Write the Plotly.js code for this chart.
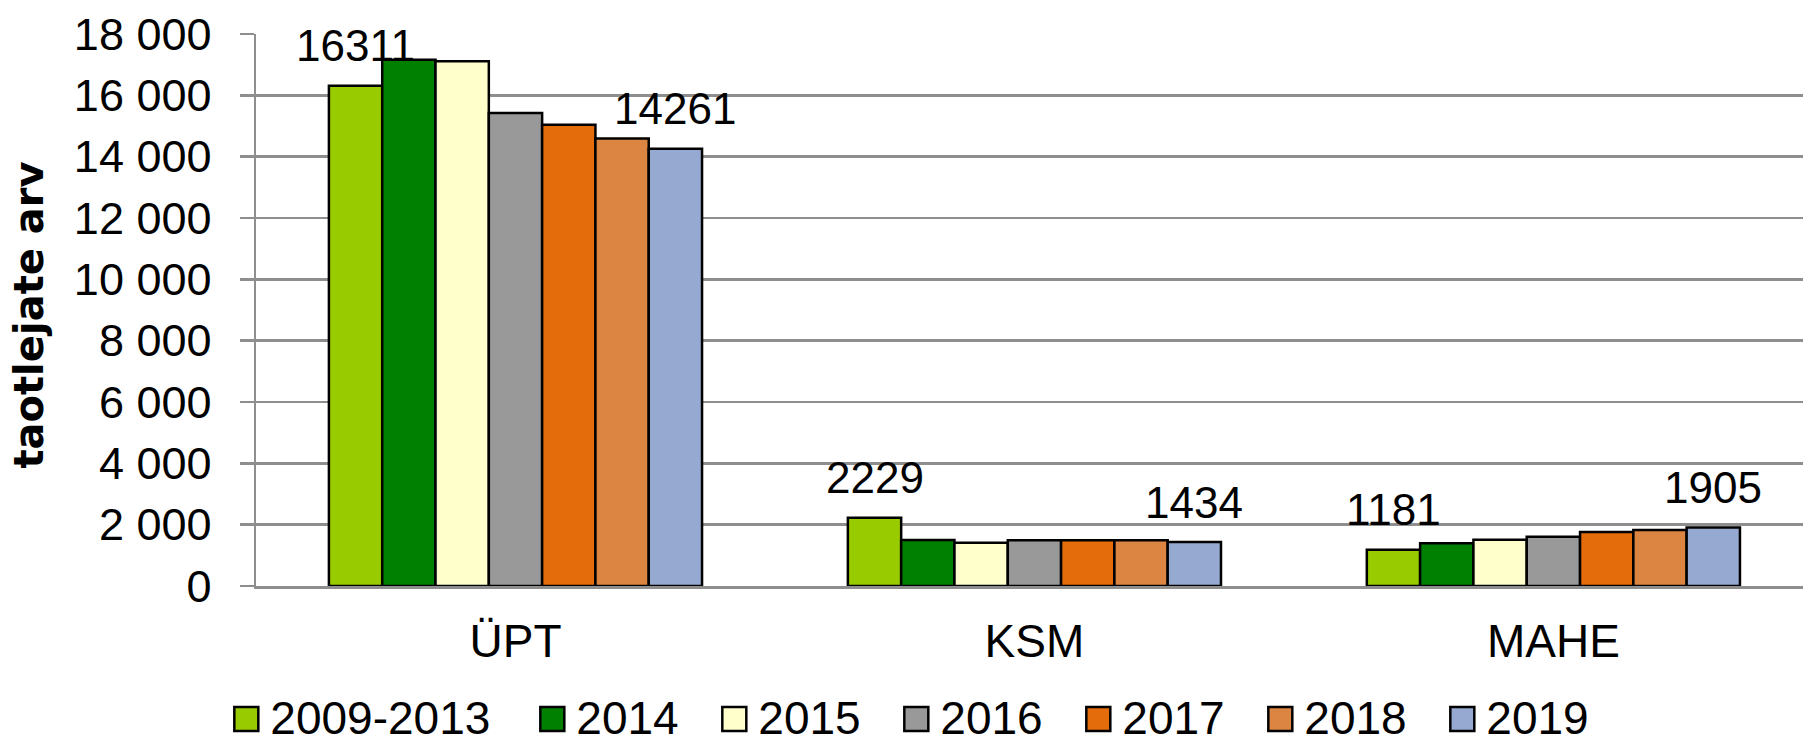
<!DOCTYPE html>
<html>
<head>
<meta charset="utf-8">
<script src="https://cdn.plot.ly/plotly-3.0.1.min.js"></script>
<style>
  html, body { margin: 0; padding: 0; background: #ffffff; }
  #chart { width: 1803px; height: 744px; }
</style>
</head>
<body>
<div id="chart"></div>
<script>
// ---- data ----
const categories = ['ÜPT', 'KSM', 'MAHE'];
const seriesNames = ['2009-2013', '2014', '2015', '2016', '2017', '2018', '2019'];
const v2009_2013 = [16311, 2229, 1181];
const v2014 = [17160, 1500, 1395];
const v2015 = [17110, 1410, 1510];
const v2016 = [15420, 1490, 1610];
const v2017 = [15040, 1490, 1760];
const v2018 = [14590, 1490, 1825];
const v2019 = [14261, 1434, 1905];
const labelledSeries = ['2009-2013', '2019'];
const yTickVals = [0, 2000, 4000, 6000, 8000, 10000, 12000, 14000, 16000, 18000];
const yTitle = 'taotlejate arv';

// ---- styles ----
const seriesValues = [v2009_2013, v2014, v2015, v2016, v2017, v2018, v2019];
const colors = ['#99cc00', '#008000', '#ffffcc', '#999999', '#e46c0a', '#dc8441', '#95a9d1'];
const legendWidths = [261, 137, 137, 137, 137, 137, 137];
const FONT = '"Liberation Sans", Arial, sans-serif';
const TITLE_FONT = '"DejaVu Sans", "Liberation Sans", Arial, sans-serif';
const GRID = '#8e8e8e';
const BARGAP = 0.281;

const traces = seriesNames.map((name, i) => ({
  type: 'bar',
  name: name,
  x: categories,
  y: seriesValues[i],
  marker: { color: colors[i], line: { color: '#000000', width: 2.5 } },
  legendwidth: legendWidths[i],
  hoverinfo: 'x+y+name'
}));

const n = seriesNames.length;
const barUnit = (1 - BARGAP) / n;
const annotations = [];
seriesNames.forEach((name, s) => {
  if (labelledSeries.indexOf(name) < 0) return;
  categories.forEach((c, ci) => {
    annotations.push({
      xref: 'x', yref: 'y',
      x: ci + (s - (n - 1) / 2) * barUnit,
      y: seriesValues[s][ci],
      text: String(seriesValues[s][ci]),
      showarrow: false,
      yanchor: 'middle',
      xanchor: 'center',
      yshift: 40,
      font: { family: FONT, size: 44, color: '#000000' }
    });
  });
});

const layout = {
  width: 1803, height: 744,
  margin: { l: 256, r: 0, t: 33.5, b: 158, autoexpand: false },
  paper_bgcolor: '#ffffff', plot_bgcolor: '#ffffff',
  separators: ', ',
  font: { family: FONT, size: 46, color: '#000000' },
  barmode: 'group',
  bargap: BARGAP,
  bargroupgap: 0,
  showlegend: true,
  legend: {
    orientation: 'h',
    x: -0.0166, xanchor: 'left',
    y: -0.2355, yanchor: 'middle',
    font: { family: FONT, size: 46, color: '#000000' },
    traceorder: 'normal',
    bgcolor: 'rgba(0,0,0,0)',
    itemclick: false, itemdoubleclick: false
  },
  xaxis: {
    type: 'category',
    range: [-0.5, 2.481],
    showgrid: false,
    showline: true, linecolor: GRID, linewidth: 2.5,
    ticks: '',
    tickfont: { family: FONT, size: 46, color: '#000000' },
    ticklabelstandoff: 13,
    fixedrange: true
  },
  yaxis: {
    range: [0, 18000],
    tickvals: yTickVals,
    tickformat: ',d',
    showgrid: true, gridcolor: GRID, gridwidth: 2.5,
    zeroline: false,
    showline: true, linecolor: GRID, linewidth: 2.5,
    ticks: 'outside', ticklen: 14, tickwidth: 2.5, tickcolor: GRID,
    ticklabelstandoff: 19,
    tickfont: { family: FONT, size: 45, color: '#000000' },
    title: { text: yTitle, standoff: 4, font: { family: TITLE_FONT, size: 40, color: '#000000', weight: 'bold' } },
    automargin: false,
    fixedrange: true
  },
  annotations: annotations
};

Plotly.newPlot('chart', traces, layout, { displayModeBar: false, staticPlot: true }).then(gd => {
  // enlarge legend swatches to match the reference's square keys
  gd.querySelectorAll('.legendpoints path').forEach(p => {
    const t = p.getAttribute('transform') || '';
    p.setAttribute('transform', t + ' translate(-4,3) scale(2)');
    p.style.vectorEffect = 'non-scaling-stroke';
    p.style.strokeWidth = '2.5px';
    p.style.stroke = '#000000';
  });
  // nudge the y-axis title closer to the page edge, as in the reference
  const yt = gd.querySelector('.g-ytitle');
  if (yt) yt.setAttribute('transform', 'translate(-14,5)');
});
</script>
</body>
</html>
